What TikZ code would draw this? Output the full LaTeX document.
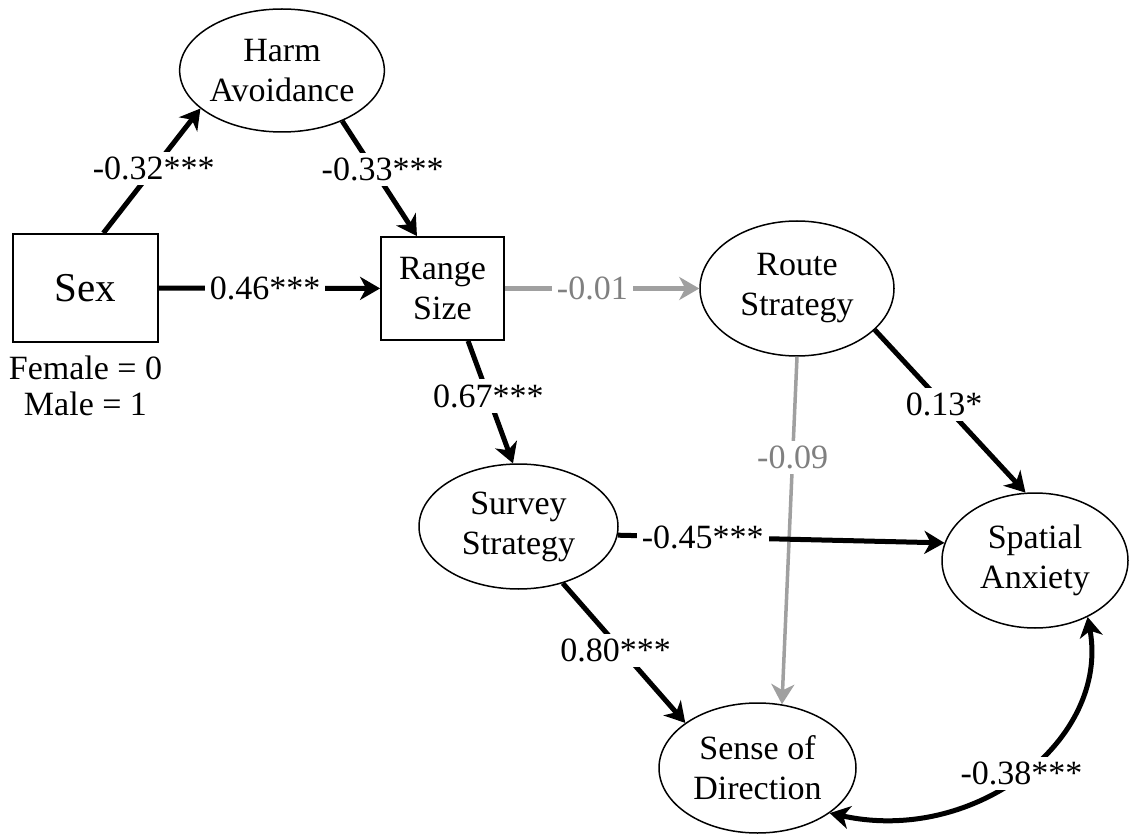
\documentclass[tikz,border=0pt]{standalone}
\usepackage{fontspec}
\setmainfont{Liberation Serif}
\usepackage{xcolor}
\usepackage{tikz}
\usetikzlibrary{shapes,arrows.meta,positioning}
\definecolor{linegray}{RGB}{160,160,160}
\definecolor{labelgray}{RGB}{128,128,128}

\begin{document}
\begin{tikzpicture}[x=1pt, y=-1pt, font=\fontsize{34}{40}\selectfont,
    latent/.style={ellipse, draw, line width=1.5pt, inner sep=0pt, align=center},
    manifest/.style={rectangle, draw, line width=1.8pt, inner sep=0pt, align=center},
    coef/.style={fill=white, inner sep=5pt},
    sig/.style={-{Stealth[length=20pt,width=23pt,inset=6pt]}, line width=5pt},
    nonsig/.style={sig, draw=linegray, text=labelgray}]
        \useasboundingbox (0,0) rectangle (1133,834);
        \node[latent, minimum width=204pt, minimum height=123pt] (harm) at (282,70.5) {Harm\\Avoidance};
        \node[manifest, minimum width=145pt, minimum height=108pt, font=\fontsize{41}{46}\selectfont] (sex) at (85.5,288) {Sex};
        \node[align=center, inner sep=0pt, below=13pt of sex, font=\fontsize{34}{36}\selectfont] (coding) {Female = 0\\Male = 1};
        \node[manifest, minimum width=123pt, minimum height=103pt] (range) at (442.5,288.5) {Range\\Size};
        \node[latent, minimum width=194pt, minimum height=135pt] (route) at (797,288.5) {Route\\Strategy};
        \node[latent, minimum width=199pt, minimum height=125pt] (survey) at (518.5,526.5) {Survey\\Strategy};
        \node[latent, minimum width=186pt, minimum height=135pt] (spatial) at (1035,560.5) {Spatial\\Anxiety};
        \node[latent, minimum width=197pt, minimum height=130pt] (sense) at (757.5,768) {Sense of\\Direction};
        % paths
        \draw[sig] (sex.72) -- node[coef, pos=0.52] {-0.32***} (harm.205);
        \draw[sig] (harm.-40) -- node[coef, pos=0.42, xshift=9pt] {-0.33***} (range.116);
        \draw[sig] (sex) -- node[coef, pos=0.48] {0.46***} (range);
        \draw[nonsig] (range) -- node[coef, pos=0.45] {-0.01} (route);
        \draw[sig] (range.-64) -- node[coef, pos=0.45] {0.67***} (survey.95);
        \draw[sig] (route.-28) -- node[coef, pos=0.46] {0.13*} (spatial.98);
        \draw[nonsig, line width=3.5pt] (route.south) -- node[coef, pos=0.29] {-0.09} (sense.69);
        \draw[sig] (survey.-5) -- node[coef, pos=0.26] {-0.45***} (spatial.169);
        \draw[sig] (survey.-52) -- node[coef, pos=0.48, xshift=-6pt] {0.80***} (sense.148);
        % covariance
        \draw[sig, {Stealth[length=20pt,width=23pt,inset=6pt]}-{Stealth[length=20pt,width=23pt,inset=6pt]}] (sense.-32) .. controls (975,845) and (1110,740) .. node[coef, pos=0.5] {-0.38***} (spatial.-47);
\end{tikzpicture}
\end{document}
